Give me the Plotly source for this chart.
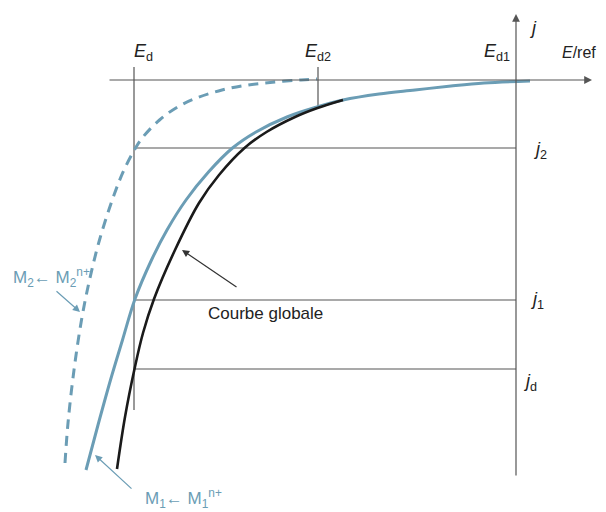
import plotly.graph_objects as go

# schematic units: E/ref (j axis at E = 0), j (E axis at j = 0), cathodic j < 0
E_d, E_d2, E_d1 = -382, -198, 0
j_2, j_1, j_d = -68, -220, -289

# metal 1 partial curve (solid blue)
E_m1 = [-430, -418, -405.5, -393.5, -381, -364.5, -349, -330, -307.5, -283.5, -260, -229, -199, -173, -137, -101, -65, -32, 14]
j_m1 = [-390, -345, -300, -260, -219, -180, -150, -120, -92, -68, -52, -37, -27, -20, -14, -10, -6, -3, -1]

# global curve (black)
E_gl = [-399, -391, -381.5, -373, -362, -341, -317, -297, -271.5, -249.5, -221, -198.5, -173]
j_gl = [-389, -337, -289, -253, -219, -170, -123, -95, -68, -52, -37, -28, -20]

# metal 2 partial curve (dashed blue)
E_m2 = [-451, -448, -442, -434.5, -426.5, -416.5, -402, -392, -380.5, -373, -356.5, -338.5, -319.5, -294, -268, -241, -215, -199]
j_m2 = [-383, -343, -290, -240, -200, -160, -115, -90, -68, -57, -40, -27, -18, -10, -5, -2, 0, 1]

blue = "#6b9db5"
grey = "#555555"
ink = "#222222"
font = "Liberation Sans, Arial, sans-serif"

fig = go.Figure()

# reference lines
ref_x = [[E_d, E_d], [E_d2, E_d2], [E_d, E_d1], [E_d, E_d1], [E_d, E_d1]]
ref_y = [[13, -330], [13, -27], [j_2, j_2], [j_1, j_1], [j_d, j_d]]
for xs, ys in zip(ref_x, ref_y):
    fig.add_trace(go.Scatter(x=xs, y=ys, mode="lines",
                             line=dict(color=grey, width=1.2), hoverinfo="skip"))

fig.add_trace(go.Scatter(x=E_m2, y=j_m2, mode="lines", line_shape="spline",
                         line=dict(color=blue, width=3, dash="10px,7px")))
fig.add_trace(go.Scatter(x=E_m1, y=j_m1, mode="lines", line_shape="spline",
                         line=dict(color=blue, width=3)))
fig.add_trace(go.Scatter(x=E_gl, y=j_gl, mode="lines", line_shape="spline",
                         line=dict(color="#1a1a1a", width=2.6)))

# axes drawn as arrows
axis_arrow = dict(xref="x", yref="y", axref="x", ayref="y", text="",
                  showarrow=True, arrowhead=2, arrowsize=1.3, arrowwidth=1.2,
                  arrowcolor=grey)
fig.add_annotation(x=76, y=0, ax=-408, ay=0, **axis_arrow)
fig.add_annotation(x=0, y=66, ax=0, ay=-397, **axis_arrow)

# pointer arrows
ptr = dict(xref="x", yref="y", axref="x", ayref="y", text="",
           showarrow=True, arrowhead=2, arrowsize=1.2, arrowwidth=1.2)
fig.add_annotation(x=-334, y=-170, ax=-278, ay=-208, arrowcolor="#333333", **ptr)
fig.add_annotation(x=-436, y=-232, ax=-461, ay=-210, arrowcolor=blue, **ptr)
fig.add_annotation(x=-421, y=-375, ax=-383, ay=-410, arrowcolor=blue, **ptr)

labels = [
    (-373, 28, "<i>E</i><sub>d</sub>", "center", ink, 18),
    (-198, 28, "<i>E</i><sub>d2</sub>", "center", ink, 18),
    (-19, 28, "<i>E</i><sub>d1</sub>", "center", ink, 18),
    (82, 28, "<i>E</i>/ref", "right", ink, 16),
    (17, 52, "<i>j</i>", "center", ink, 18),
    (24, -70, "<i>j</i><sub>2</sub>", "center", ink, 18),
    (21, -220, "<i>j</i><sub>1</sub>", "center", ink, 18),
    (14, -302, "<i>j</i><sub>d</sub>", "center", ink, 18),
    (-251, -233, "Courbe globale", "center", ink, 17),
    (-465, -197, "M<sub>2</sub>\u2190 M<sub>2</sub><sup>n+</sup>", "center", blue, 17),
    (-333, -418, "M<sub>1</sub>\u2190 M<sub>1</sub><sup>n+</sup>", "center", blue, 17),
]
for x, y, t, anc, col, sz in labels:
    fig.add_annotation(x=x, y=y, text=t, showarrow=False, xanchor=anc,
                       font=dict(family=font, size=sz, color=col))

# page body adds an 8 px offset, so the figure is 8 px smaller
fig.update_layout(
    width=598, height=504,
    margin=dict(l=0, r=0, t=0, b=0),
    paper_bgcolor="white", plot_bgcolor="white",
    showlegend=False,
    xaxis=dict(range=[-508, 90], visible=False),
    yaxis=dict(range=[-432, 72], visible=False),
)

fig.write_html("out.html")
